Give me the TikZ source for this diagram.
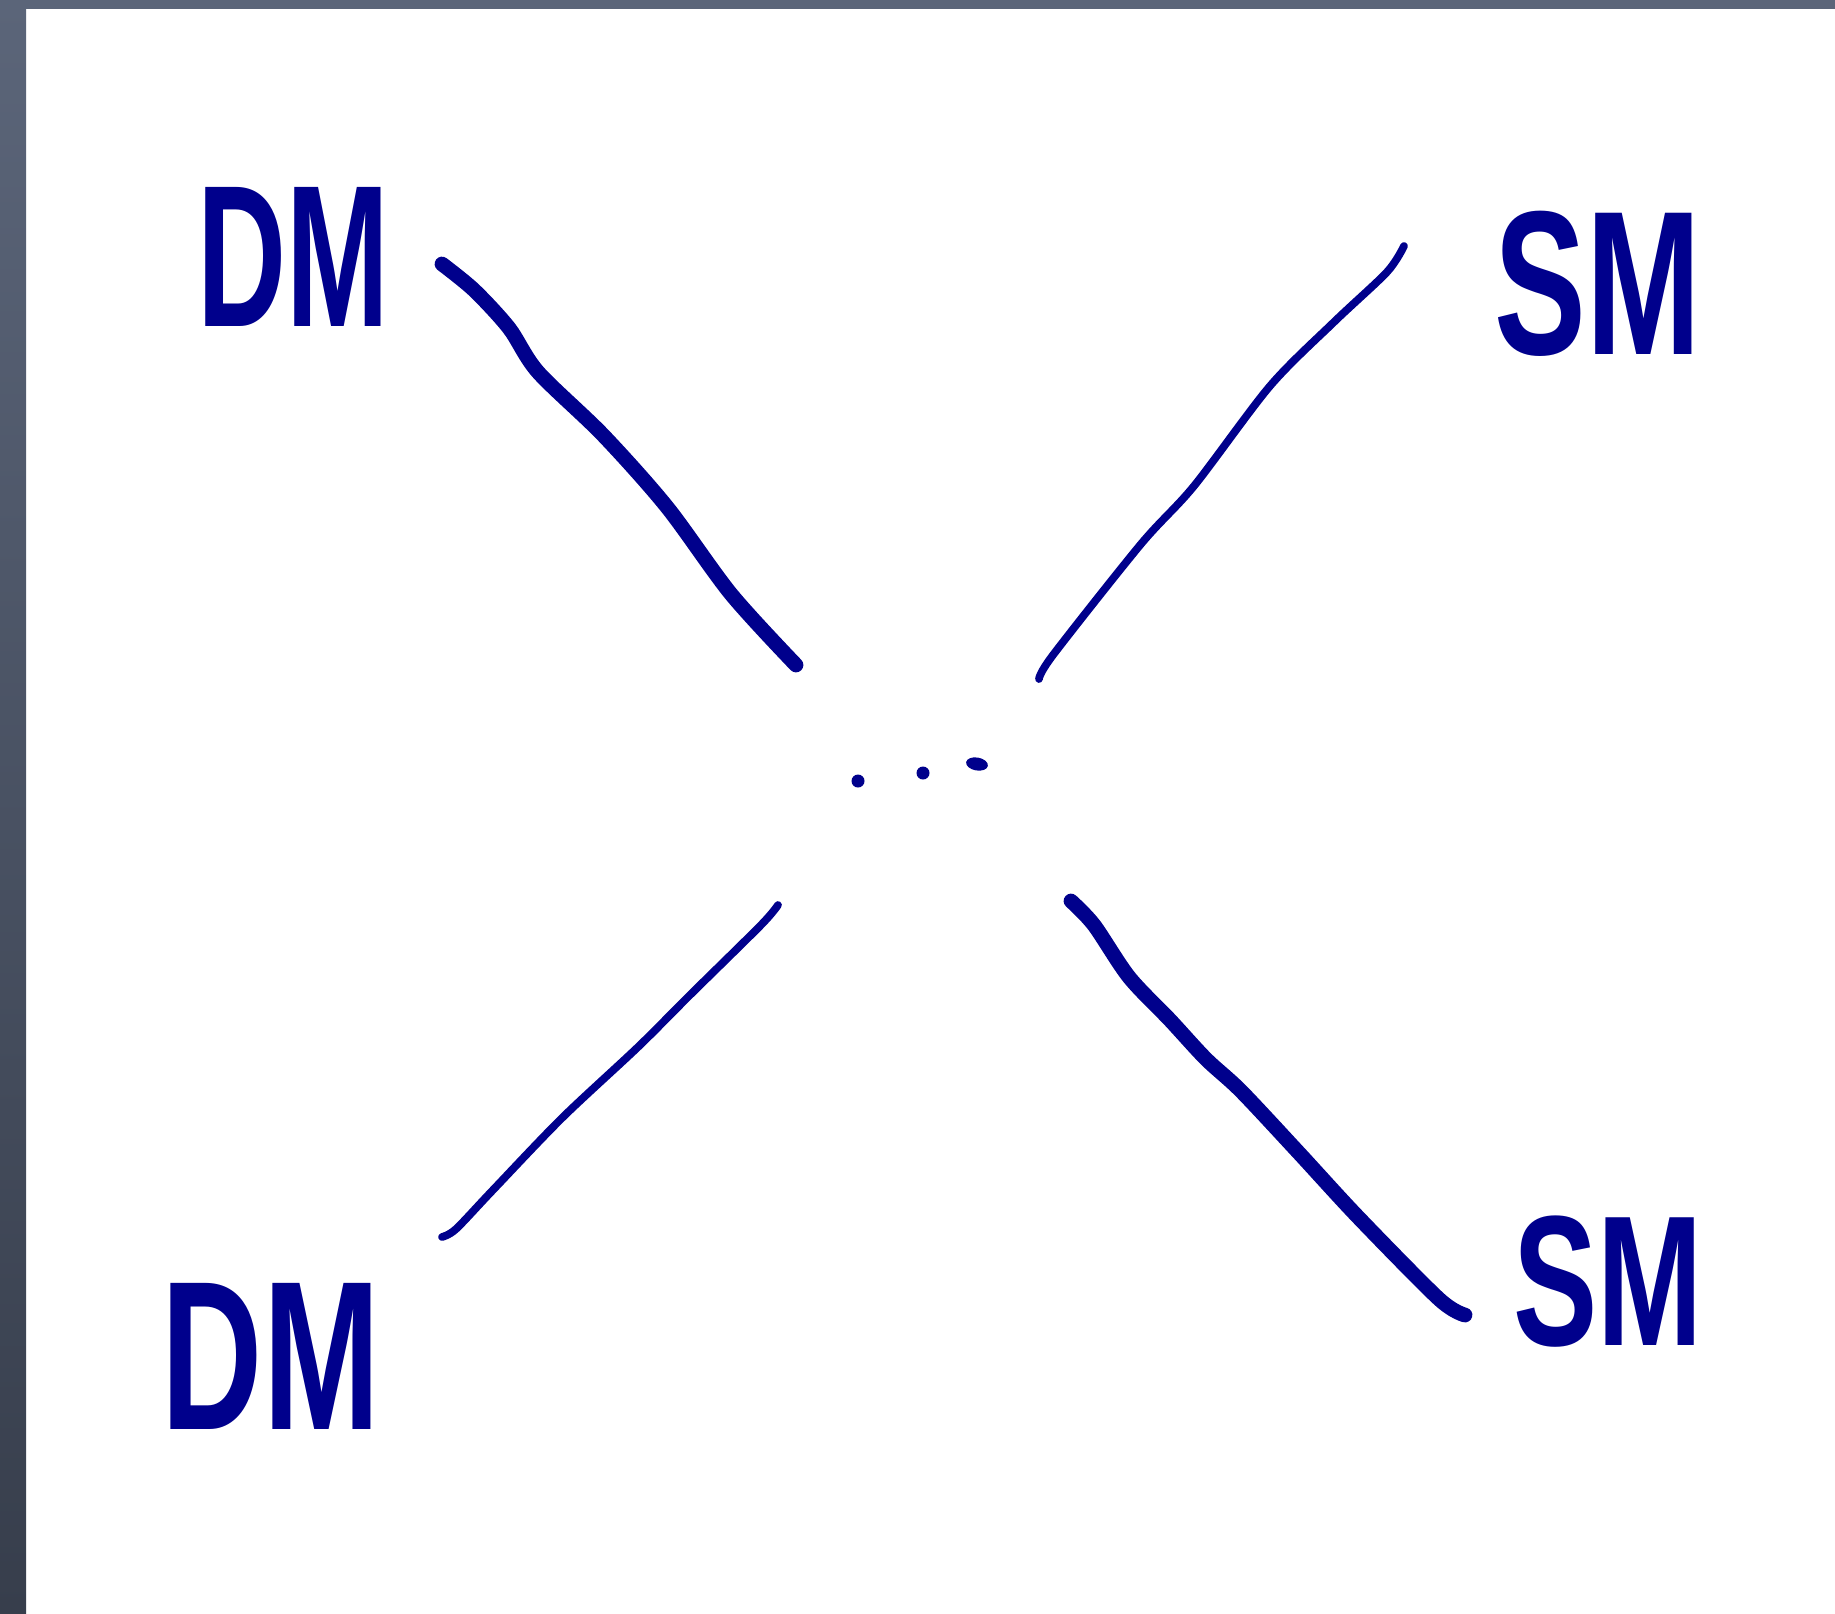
\documentclass[tikz,border=0pt]{standalone}
\usepackage{fontspec}
\setmainfont{Liberation Sans}
\definecolor{ink}{RGB}{0,0,140}
\definecolor{frameA}{RGB}{91,101,121}
\definecolor{frameB}{RGB}{55,62,76}
\begin{document}
\begin{tikzpicture}[x=0.01cm,y=-0.01cm,
  lbl/.style={inner sep=0pt,outer sep=0pt,text=ink},
  thickink/.style={draw=ink,line width=4.2pt,line cap=round,line join=round},
  thinink/.style={draw=ink,line width=2.2pt,line cap=round,line join=round},
  dotink/.style={fill=ink,draw=none}]
\useasboundingbox (0,0) rectangle (1835,1614);
\fill[white] (0,0) rectangle (1835,1614);
% window frame
\shade[top color=frameA,bottom color=frameB] (0,0) rectangle (26,1614);
\fill[frameA] (0,0) rectangle (1835,9);
% labels
\node[lbl,font=\fontsize{57.5}{60}\bfseries] (dmtop) at (293,257) {\scalebox{0.61}[1]{DM}};
\node[lbl,font=\fontsize{58.4}{60}\bfseries] (smtop) at (1598,284) {\scalebox{0.67}[1]{SM}};
\node[lbl,font=\fontsize{60.4}{62}\bfseries] (dmbot) at (271,1356) {\scalebox{0.66}[1]{DM}};
\node[lbl,font=\fontsize{52.8}{56}\bfseries] (smbot) at (1608,1282) {\scalebox{0.68}[1]{SM}};
% line ends
\coordinate (tla) at (442,264);  \coordinate (tlb) at (796,665);
\coordinate (tra) at (1404,246); \coordinate (trb) at (1039,679);
\coordinate (bla) at (778,905);  \coordinate (blb) at (442,1237);
\coordinate (bra) at (1071,901); \coordinate (brb) at (1465,1315);
% lines
\draw[thickink] plot[smooth,tension=0.5] coordinates {(442,264) (474,290) (509,328) (538,372) (603,435) (667,507) (731,594) (796,665)};
\draw[thinink] plot[smooth,tension=0.5] coordinates {(1404,246) (1387,272) (1334,322) (1270,386) (1194,486) (1141,544) (1053,655) (1039,679)};
\draw[thinink] plot[smooth,tension=0.5] coordinates {(778,905) (761,925) (690,995) (638,1047) (562,1118) (492,1191) (456,1229) (442,1237)};
\draw[thickink] plot[smooth,tension=0.5] coordinates {(1071,901) (1094,925) (1129,977) (1170,1020) (1206,1059) (1241,1091) (1299,1153) (1358,1217) (1439,1299) (1465,1315)};
% dots
\fill[dotink] (858,781) circle[radius=0.065cm];
\fill[dotink] (923,773) circle[radius=0.065cm];
\fill[dotink,rotate around={-10:(977,764)}] (977,764) ellipse[x radius=0.11cm,y radius=0.065cm];
\end{tikzpicture}
\end{document}
